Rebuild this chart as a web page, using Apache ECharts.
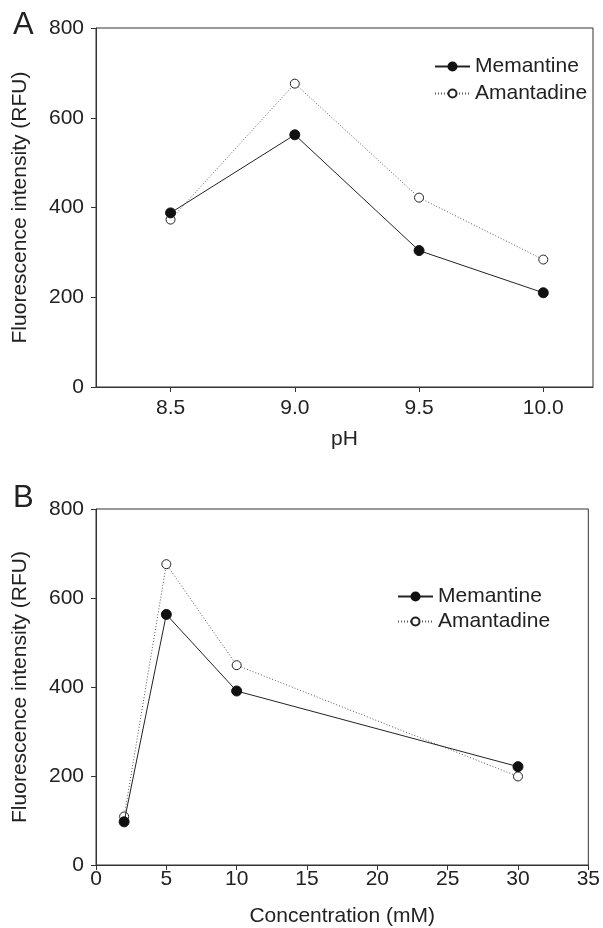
<!DOCTYPE html>
<html>
<head>
<meta charset="utf-8">
<script src="https://cdn.jsdelivr.net/npm/echarts@6/dist/echarts.min.js"></script>
<style>
  html, body { margin: 0; padding: 0; background: #fff; }
  #chart { width: 603px; height: 928px; }
</style>
</head>
<body>
<div id="chart"></div>
<script>
// panel A: pH
const phValues = [8.5, 9.0, 9.5, 10.0]
const phMemantine = [388, 562, 304, 210]
const phAmantadine = [373, 676, 422, 284]

// panel B: concentration (mM)
const concValues = [2, 5, 10, 30]
const concMemantine = [97, 563, 391, 221]
const concAmantadine = [109, 676, 449, 199]

const chart = echarts.init(document.getElementById('chart'))
const font = '"Liberation Sans", Arial, Helvetica, sans-serif'
const ink = '#222'
const axisColor = '#333'
const fs = 21

function yAxis(gridIndex) {
  return {
    gridIndex: gridIndex,
    type: 'value',
    min: 0,
    max: 800,
    interval: 200,
    name: 'Fluorescence intensity (RFU)',
    nameLocation: 'middle',
    nameGap: 65,
    nameTextStyle: {color: ink, fontSize: fs, fontFamily: font},
    axisLine: {show: true, lineStyle: {color: axisColor, width: 1}},
    axisTick: {show: true, length: 5, lineStyle: {color: axisColor}},
    axisLabel: {color: ink, fontSize: fs, fontFamily: font, margin: 12},
    splitLine: {show: false}
  }
}

function pair(xs, ys) {
  return xs.map((x, i) => [x, ys[i]])
}

const memStyle = {
  type: 'line',
  symbol: 'circle',
  symbolSize: 10,
  itemStyle: {color: '#111', borderColor: '#111', borderWidth: 1},
  lineStyle: {color: '#222', width: 1, type: 'solid'},
  z: 3
}
const amaStyle = {
  type: 'line',
  symbol: 'circle',
  symbolSize: 9,
  itemStyle: {color: '#fff', borderColor: '#222', borderWidth: 1},
  lineStyle: {color: '#555', width: 1, type: [1, 2]},
  z: 2
}

const legendText = {color: ink, fontSize: fs, fontFamily: font, lineHeight: 21}

chart.setOption({
  animation: false,
  textStyle: {fontFamily: font},
  graphic: [
    {type: 'text', left: 13, top: 10, style: {text: 'A', fontSize: 31, fontFamily: font, fill: ink}},
    {type: 'text', left: 13, top: 483, style: {text: 'B', fontSize: 31, fontFamily: font, fill: ink}}
  ],
  legend: [
    {
      orient: 'vertical', left: 434, top: 56, padding: 0, itemWidth: 35, itemHeight: 10, itemGap: 6,
      textStyle: legendText,
      data: ['Memantine', 'Amantadine']
    },
    {
      orient: 'vertical', left: 397, top: 586, padding: 0, itemWidth: 35, itemHeight: 10, itemGap: 4,
      textStyle: legendText,
      data: ['Memantine ', 'Amantadine ']
    }
  ],
  grid: [
    {left: 96, right: 10, top: 28, bottom: 541, show: true, borderColor: axisColor, borderWidth: 1, containLabel: false},
    {left: 96, right: 12, top: 509, bottom: 62, show: true, borderColor: axisColor, borderWidth: 1, containLabel: false}
  ],
  xAxis: [
    {
      gridIndex: 0,
      type: 'value',
      min: 8.2,
      max: 10.2,
      name: 'pH',
      nameLocation: 'middle',
      nameGap: 42,
      nameTextStyle: {color: ink, fontSize: fs, fontFamily: font},
      axisLine: {show: true, onZero: false, lineStyle: {color: axisColor}},
      axisTick: {show: true, length: 5, customValues: phValues, lineStyle: {color: axisColor}},
      axisLabel: {
        color: ink, fontSize: fs, fontFamily: font, margin: 11,
        customValues: phValues,
        formatter: v => v.toFixed(1)
      },
      splitLine: {show: false}
    },
    {
      gridIndex: 1,
      type: 'value',
      min: 0,
      max: 35,
      interval: 5,
      name: 'Concentration (mM)',
      nameLocation: 'middle',
      nameGap: 41,
      nameTextStyle: {color: ink, fontSize: fs, fontFamily: font},
      axisLine: {show: true, onZero: false, lineStyle: {color: axisColor}},
      axisTick: {show: true, length: 5, lineStyle: {color: axisColor}},
      axisLabel: {color: ink, fontSize: fs, fontFamily: font, margin: 4},
      splitLine: {show: false}
    }
  ],
  yAxis: [yAxis(0), yAxis(1)],
  series: [
    Object.assign({name: 'Memantine', xAxisIndex: 0, yAxisIndex: 0, data: pair(phValues, phMemantine)}, memStyle),
    Object.assign({name: 'Amantadine', xAxisIndex: 0, yAxisIndex: 0, data: pair(phValues, phAmantadine)}, amaStyle),
    Object.assign({name: 'Memantine ', xAxisIndex: 1, yAxisIndex: 1, data: pair(concValues, concMemantine)}, memStyle),
    Object.assign({name: 'Amantadine ', xAxisIndex: 1, yAxisIndex: 1, data: pair(concValues, concAmantadine)}, amaStyle)
  ]
})
</script>
</body>
</html>
